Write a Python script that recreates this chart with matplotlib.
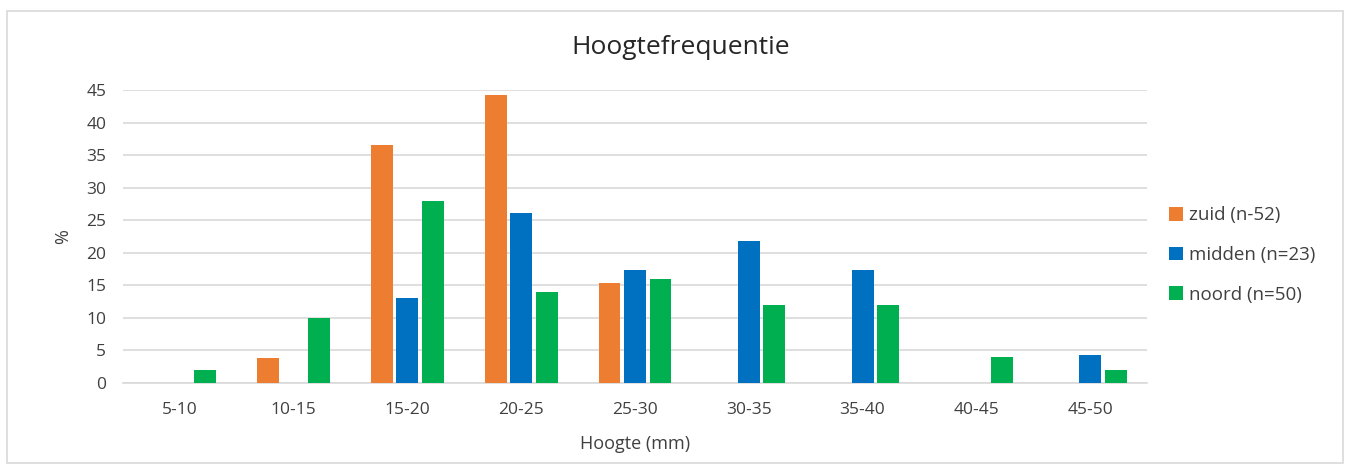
import numpy as np
import matplotlib.pyplot as plt
from matplotlib.patches import Rectangle

plt.rcParams['font.family'] = ['Open Sans', 'DejaVu Sans']

klassen = ['5-10', '10-15', '15-20', '20-25', '25-30', '30-35', '35-40', '40-45', '45-50']
zuid = [0, 3.85, 36.54, 44.23, 15.38, 0, 0, 0, 0]
midden = [0, 0, 13.04, 26.09, 17.39, 21.74, 17.39, 0, 4.35]
noord = [2, 10, 28, 14, 16, 12, 12, 4, 2]

series = [
    (zuid, 'zuid (n-52)', '#ED7D31'),
    (midden, 'midden (n=23)', '#0070C0'),
    (noord, 'noord (n=50)', '#00B050'),
]

fig = plt.figure(figsize=(13.55, 4.73), dpi=100)
# kader om de grafiek
fig.patches.append(Rectangle((7 / 1355, 10 / 473), 1336 / 1355, 452 / 473,
                             transform=fig.transFigure, fill=False,
                             edgecolor='#D9D9D9', linewidth=1.2))

ax = fig.add_axes([123 / 1355, 90 / 473, 1024 / 1355, 293 / 473])
x = np.arange(len(klassen))
breedte = 0.193
stap = 0.224
for i, (waarden, label, kleur) in enumerate(series):
    ax.bar(x + (i - 1) * stap, waarden, breedte, color=kleur, label=label, zorder=3)

ax.set_xlim(-0.5, len(klassen) - 0.5)
ax.set_ylim(0, 45)
ax.set_yticks(range(0, 50, 5))
ax.set_xticks(x)
ax.set_xticklabels(klassen)
ax.grid(axis='y', color='#D9D9D9', linewidth=1.2, zorder=0)
for s in ['top', 'right', 'left']:
    ax.spines[s].set_visible(False)
ax.spines['bottom'].set_color('#D9D9D9')
ax.spines['bottom'].set_linewidth(1.2)
ax.tick_params(length=0, labelsize=12.5, colors='#404040')
ax.tick_params(axis='x', pad=14)
ax.tick_params(axis='y', pad=12)

ax.set_xlabel('Hoogte (mm)', fontsize=13, color='#404040', labelpad=12)
ax.set_ylabel('%', fontsize=13, color='#404040', labelpad=10)
fig.text(681 / 1355, 1 - 48 / 473, 'Hoogtefrequentie', fontsize=19,
         color='#262626', ha='center', va='center')

ax.legend(loc='center left', bbox_to_anchor=(1.005, 0.437), frameon=False,
          fontsize=13.5, labelcolor='#404040', handlelength=0.75, handleheight=0.75,
          handletextpad=0.3, labelspacing=1.15)

fig.savefig('out.png')
